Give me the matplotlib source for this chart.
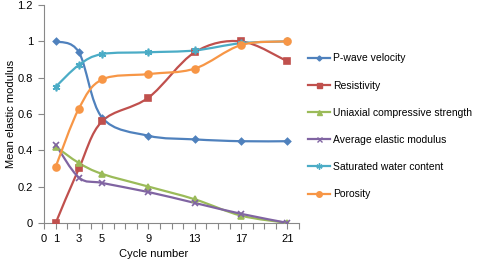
import numpy as np
import matplotlib.pyplot as plt
from matplotlib.path import Path
from matplotlib.patches import PathPatch
from matplotlib.lines import Line2D

cycles = [1, 3, 5, 9, 13, 17, 21]
p_wave = [1.0, 0.94, 0.58, 0.48, 0.46, 0.45, 0.45]
resistivity = [0.0, 0.30, 0.56, 0.69, 0.94, 1.0, 0.89]
ucs = [0.42, 0.33, 0.27, 0.20, 0.13, 0.04, 0.0]
elastic = [0.43, 0.25, 0.22, 0.17, 0.11, 0.05, 0.0]
water = [0.75, 0.87, 0.93, 0.94, 0.95, 0.99, 1.0]
porosity = [0.31, 0.63, 0.79, 0.82, 0.85, 0.98, 1.0]

series = [
    ("P-wave velocity", p_wave, "#4F81BD", "D", 3.2),
    ("Resistivity", resistivity, "#C0504D", "s", 4.5),
    ("Uniaxial compressive strength", ucs, "#9BBB59", "^", 4.5),
    ("Average elastic modulus", elastic, "#8064A2", "x", 4.5),
    ("Saturated water content", water, "#4BACC6", (6, 2, 0), 5.5),
    ("Porosity", porosity, "#F79646", "o", 5),
]


def smooth_path(x, y, k=1 / 6):
    # Excel-like smoothed line as cubic Bezier segments through the points
    x = np.asarray(x, float)
    y = np.asarray(y, float)
    n = len(x)
    verts = [(x[0], y[0])]
    codes = [Path.MOVETO]
    for i in range(n - 1):
        i0 = max(i - 1, 0)
        i3 = min(i + 2, n - 1)
        c1 = (x[i] + (x[i + 1] - x[i0]) * k, y[i] + (y[i + 1] - y[i0]) * k)
        c2 = (x[i + 1] - (x[i3] - x[i]) * k, y[i + 1] - (y[i3] - y[i]) * k)
        verts += [c1, c2, (x[i + 1], y[i + 1])]
        codes += [Path.CURVE4] * 3
    return Path(verts, codes)


plt.rcParams["font.family"] = "Liberation Sans"
fig = plt.figure(figsize=(4.8, 2.66), dpi=100)
ax = fig.add_axes([0.092, 0.162, 0.531, 0.819])

handles = []
for name, vals, color, marker, ms in series:
    ax.add_patch(PathPatch(smooth_path(cycles, vals), fill=False,
                           edgecolor=color, lw=1.6, zorder=2))
    ax.plot(cycles, vals, ls="none", marker=marker, color=color, ms=ms,
            mec=color, mew=1.2, zorder=3)
    handles.append(Line2D([], [], color=color, lw=1.6, marker=marker,
                          ms=ms * 0.8, mew=1.0, label=name))

ax.set_xlim(0, 22)
ax.set_ylim(0, 1.2)
ax.set_xticks([0, 1, 3, 5, 9, 13, 17, 21])
ax.set_xticks(range(0, 23), minor=True)
ax.set_yticks([0, 0.2, 0.4, 0.6, 0.8, 1.0, 1.2])
ax.set_yticklabels(["0", "0.2", "0.4", "0.6", "0.8", "1", "1.2"])
ax.tick_params(labelsize=8, color="#888888", length=4, width=0.8, pad=4)
ax.tick_params(which="minor", color="#888888", length=4, width=0.8)
for s in ["top", "right"]:
    ax.spines[s].set_visible(False)
for s in ["left", "bottom"]:
    ax.spines[s].set_color("#888888")

ax.set_xlabel("Cycle number", fontsize=8)
ax.xaxis.set_label_coords(0.43, -0.12)
ax.set_ylabel("Mean elastic modulus", fontsize=8)
ax.yaxis.set_label_coords(-0.11, 0.5)

fig.legend(handles=handles, loc="upper left", bbox_to_anchor=(0.632, 0.815),
           frameon=False, fontsize=7.5, handlelength=2.2, handletextpad=0.25,
           labelspacing=1.65, borderaxespad=0)

fig.savefig("out.png", dpi=100)
